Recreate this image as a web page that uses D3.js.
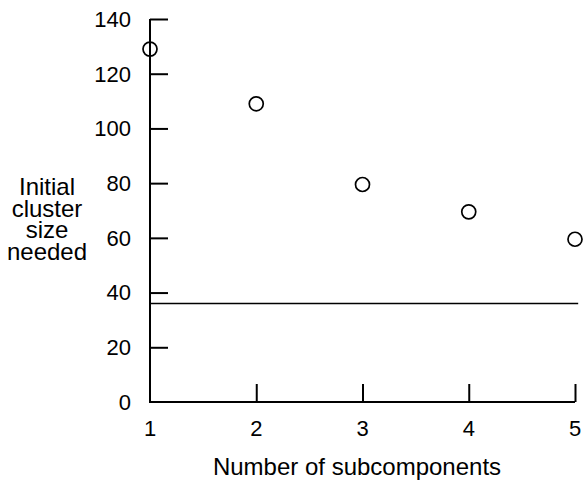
<!DOCTYPE html>
<html>
<head>
<meta charset="utf-8">
<script src="https://cdn.jsdelivr.net/npm/d3@7"></script>
<style>
  html, body { margin: 0; padding: 0; background: #fff; }
  svg { display: block; }
  text { font-family: "Liberation Sans", Arial, Helvetica, sans-serif; fill: #000; }
</style>
</head>
<body>
<svg id="chart" width="583" height="485"></svg>
<script>
// ---- data ----
const subcomponents = [1, 2, 3, 4, 5];
const clusterSize = [129, 109, 79.5, 69.5, 59.5];
const thresholdValue = 36;
const yTicks = [0, 20, 40, 60, 80, 100, 120, 140];
const xTicks = [1, 2, 3, 4, 5];
const yLabelLines = ["Initial", "cluster", "size", "needed"];
const xLabel = "Number of subcomponents";

// ---- layout ----
const svg = d3.select("#chart");
const x = d3.scaleLinear().domain([1, 5]).range([150, 575]);
const y = d3.scaleLinear().domain([0, 140]).range([402, 19]);

const tickFont = 22;
const labelFont = 24;

// y axis
const yAxis = d3.axisRight(y).tickValues(yTicks.filter(d => d > 0)).tickSize(18).tickFormat("");
const gy = svg.append("g").attr("transform", `translate(${x(1)},0)`).call(yAxis);
gy.select(".domain").remove();
gy.selectAll(".tick line").attr("stroke", "#000").attr("stroke-width", 2);
svg.append("line")
  .attr("x1", x(1)).attr("x2", x(1))
  .attr("y1", y(0) + 1).attr("y2", y(140))
  .attr("stroke", "#000").attr("stroke-width", 2);

// y tick labels
svg.append("g").selectAll("text").data(yTicks).join("text")
  .attr("x", x(1) - 19)
  .attr("y", d => y(d))
  .attr("dy", "0.36em")
  .attr("text-anchor", "end")
  .attr("font-size", tickFont)
  .text(d => d);

// x axis
const xAxis = d3.axisTop(x).tickValues(xTicks.filter(d => d > 1)).tickSize(18).tickFormat("");
const gx = svg.append("g").attr("transform", `translate(0,${y(0)})`).call(xAxis);
gx.select(".domain").remove();
gx.selectAll(".tick line").attr("stroke", "#000").attr("stroke-width", 2);
svg.append("line")
  .attr("x1", x(1) - 1).attr("x2", x(5))
  .attr("y1", y(0)).attr("y2", y(0))
  .attr("stroke", "#000").attr("stroke-width", 2);

// x tick labels
svg.append("g").selectAll("text").data(xTicks).join("text")
  .attr("x", d => x(d))
  .attr("y", y(0) + 34)
  .attr("text-anchor", "middle")
  .attr("font-size", tickFont)
  .text(d => d);

// threshold line
svg.append("line")
  .attr("x1", x(1)).attr("x2", x(5.03))
  .attr("y1", y(thresholdValue)).attr("y2", y(thresholdValue))
  .attr("stroke", "#000").attr("stroke-width", 1.6);

// points
svg.append("g").selectAll("circle").data(subcomponents).join("circle")
  .attr("cx", d => x(d))
  .attr("cy", (d, i) => y(clusterSize[i]))
  .attr("r", 7)
  .attr("fill", "none")
  .attr("stroke", "#000")
  .attr("stroke-width", 1.7);

// y label (multi-line)
const yl = svg.append("text")
  .attr("text-anchor", "middle")
  .attr("font-size", labelFont);
yl.selectAll("tspan").data(yLabelLines).join("tspan")
  .attr("x", 47)
  .attr("y", (d, i) => 195 + i * 21.5)
  .text(d => d);

// x label
svg.append("text")
  .attr("x", 357)
  .attr("y", 475)
  .attr("text-anchor", "middle")
  .attr("font-size", labelFont)
  .text(xLabel);
</script>
</body>
</html>
